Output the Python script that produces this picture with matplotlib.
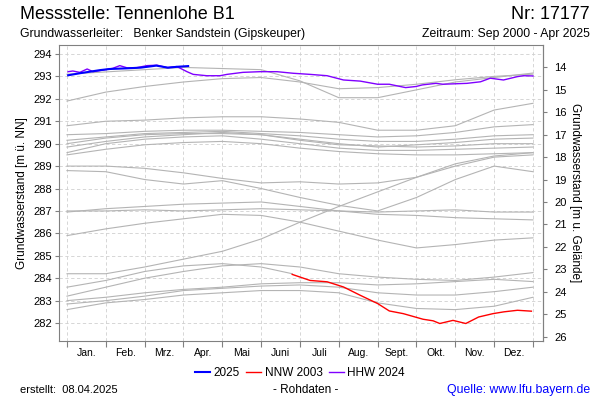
import numpy as np
import matplotlib.pyplot as plt

plt.rcParams['font.family'] = ['Liberation Sans', 'DejaVu Sans']

# month boundaries (x in months, Jan 1 = 0, Dec 31 = 12)
month_x = np.arange(13)
month_labels = ['Jan.', 'Feb.', 'Mrz.', 'Apr.', 'Mai', 'Juni', 'Juli',
                'Aug.', 'Sept.', 'Okt.', 'Nov.', 'Dez.']
gelaende = 307.4   # ground level, for right axis

# other years (grey), values at month boundaries
years_grey = [
    [293.1, 293.2, 293.3, 293.4, 293.35, 293.3, 292.8, 292.05, 292.05, 292.4, 292.75, 292.95, 293.15],
    [291.9, 292.3, 292.55, 292.75, 292.9, 292.95, 292.75, 292.45, 292.5, 292.65, 292.85, 293.0, 293.1],
    [290.8, 291.0, 291.05, 291.15, 291.2, 291.2, 291.1, 290.95, 290.6, 290.6, 290.8, 291.5, 291.8],
    [290.4, 290.45, 290.55, 290.6, 290.6, 290.55, 290.5, 290.4, 290.3, 290.35, 290.5, 290.75, 290.85],
    [290.15, 290.3, 290.45, 290.5, 290.55, 290.45, 290.35, 290.2, 290.1, 290.1, 290.2, 290.35, 290.4],
    [290.0, 290.25, 290.4, 290.45, 290.45, 290.4, 290.2, 290.0, 289.85, 289.95, 290.05, 290.2, 290.25],
    [289.85, 290.1, 290.3, 290.4, 290.5, 290.4, 290.15, 289.95, 289.9, 289.85, 289.9, 290.0, 290.0],
    [289.6, 290.0, 290.2, 290.3, 290.35, 290.2, 290.0, 289.8, 289.7, 289.7, 289.75, 289.8, 289.85],
    [289.5, 289.75, 289.95, 290.05, 290.1, 290.0, 289.8, 289.65, 289.55, 289.5, 289.5, 289.55, 289.6],
    [289.0, 289.0, 288.9, 288.7, 288.45, 288.25, 288.3, 288.2, 288.25, 288.5, 289.0, 289.4, 289.5],
    [288.8, 288.75, 288.4, 288.2, 288.35, 288.0, 287.6, 287.25, 287.0, 287.6, 288.4, 289.0, 288.75],
    [287.0, 287.0, 287.05, 287.0, 287.05, 287.1, 287.05, 287.0, 286.95, 287.0, 287.05, 286.95, 286.95],
    [286.95, 287.1, 287.2, 287.3, 287.35, 287.4, 287.2, 287.0, 286.85, 286.8, 286.7, 286.65, 286.6],
    [285.9, 286.2, 286.45, 286.65, 286.85, 286.8, 286.5, 286.1, 285.7, 285.35, 285.5, 285.7, 285.8],
    [284.2, 284.2, 284.5, 284.85, 285.2, 285.75, 286.5, 287.2, 287.85, 288.5, 289.1, 289.45, 289.6],
    [283.2, 283.6, 284.0, 284.3, 284.55, 284.65, 284.5, 284.2, 284.05, 283.95, 283.9, 284.05, 284.25],
    [282.85, 283.0, 283.2, 283.45, 283.55, 283.65, 283.7, 283.6, 283.35, 283.25, 283.25, 283.4, 283.6],
    [282.6, 282.9, 283.05, 283.25, 283.35, 283.45, 283.45, 283.35, 282.9, 282.65, 282.6, 282.75, 283.15],
    [283.0, 283.15, 283.35, 283.5, 283.6, 283.75, 283.8, 283.8, 283.7, 283.75, 283.85, 283.95, 283.85],
]

# 2003 before the red NNW part (grey)
x_2003a = [0, 1, 2, 3, 4, 5, 5.8]
y_2003a = [283.6, 283.9, 284.3, 284.55, 284.65, 284.5, 284.2]

# 2025 (blue)
x_2025 = [0.03, 0.33, 0.85, 1.1, 1.55, 1.9, 2.3, 2.6, 2.85, 3.12]
y_2025 = [293.05, 293.14, 293.28, 293.33, 293.36, 293.39, 293.48, 293.39, 293.43, 293.46]

# NNW 2003 (red)
x_nnw = [5.8, 6.26, 6.7, 7.12, 7.55, 8.0, 8.3, 8.66, 9.17, 9.43, 9.6, 9.94, 10.27, 10.6, 10.97, 11.25, 11.6, 11.96]
y_nnw = [284.17, 283.9, 283.84, 283.61, 283.24, 282.87, 282.54, 282.42, 282.17, 282.1, 281.98, 282.12, 281.98, 282.27, 282.42, 282.5, 282.57, 282.53]

# HHW 2024 (purple)
x_hhw = [0.03, 0.15, 0.33, 0.52, 0.67, 0.93, 1.18, 1.36, 1.55, 1.8, 2.06, 2.32, 2.58, 2.83, 3.09, 3.25,
         3.6, 3.94, 4.12, 4.53, 4.97, 5.41, 5.82, 6.26, 6.7, 7.12, 7.55, 8.0, 8.3, 8.72, 8.99, 9.15, 9.5,
         9.68, 10.3, 10.65, 10.9, 11.24, 11.6, 11.75, 12.0]
y_hhw = [293.21, 293.24, 293.18, 293.33, 293.21, 293.28, 293.36, 293.48, 293.38, 293.39, 293.48, 293.5, 293.39,
         293.44, 293.21, 293.09, 293.03, 293.03, 293.09, 293.18, 293.21, 293.21, 293.14, 293.09, 293.03, 292.84,
         292.79, 292.65, 292.65, 292.5, 292.55, 292.62, 292.69, 292.65, 292.69, 292.76, 292.92, 292.84, 292.99,
         293.03, 293.02]

fig = plt.figure(figsize=(6, 4), dpi=100)
ax = fig.add_axes([0.0983, 0.1475, 0.8067, 0.74])

for vals in years_grey:
    ax.plot(month_x, vals, color='#b4b4b4', lw=0.8, zorder=2)
ax.plot(x_2003a, y_2003a, color='#b4b4b4', lw=0.8, zorder=2)

ax.plot(x_nnw, y_nnw, color='#ff0000', lw=1.0, zorder=4, label='NNW 2003')
ax.plot(x_hhw, y_hhw, color='#8000ff', lw=1.0, zorder=4, label='HHW 2024')
ax.plot(x_2025, y_2025, color='#0000ff', lw=1.5, zorder=5, label='2025')

ax.set_xlim(-0.206, 12.258)
ax.set_ylim(281.2, 294.4)
ax.set_yticks(np.arange(282, 295))
ax.set_xticks(month_x)
ax.set_xticklabels([])
ax.set_xticks(month_x[:-1] + 0.5, minor=True)
ax.set_xticklabels(month_labels, minor=True, fontsize=7.5)
ax.tick_params(axis='x', which='minor', length=0, pad=5)
ax.tick_params(axis='x', which='major', length=4, color='#808080')
ax.tick_params(axis='y', labelsize=8, length=3, pad=2, color='#808080')
ax.grid(True, which='major', color='#d0d0d0', ls=(0, (4, 3)), lw=0.6)
for s in ax.spines.values():
    s.set_color('#808080')

sec = ax.secondary_yaxis('right', functions=(lambda v: gelaende - v, lambda d: gelaende - d))
sec.set_yticks(np.arange(14, 27))
sec.tick_params(labelsize=8, length=3, pad=5, color='#808080')
sec.spines['right'].set_color('#808080')
sec.set_ylabel('Grundwasserstand [m u. Gelände]', fontsize=8.5, rotation=-90, labelpad=10)
ax.set_ylabel('Grundwasserstand [m ü. NN]', fontsize=8.5, labelpad=4)

h, l = ax.get_legend_handles_labels()
order = [2, 0, 1]
fig.legend([h[i] for i in order], [l[i] for i in order], loc='center', bbox_to_anchor=(0.5, 0.068),
           ncol=3, frameon=False, fontsize=8.5, handlelength=1.3, handletextpad=0.3, columnspacing=0.5)

fig.text(0.033, 0.963, 'Messstelle: Tennenlohe B1', fontsize=13, va='center')
fig.text(0.983, 0.963, 'Nr: 17177', fontsize=13, va='center', ha='right')
fig.text(0.033, 0.915, 'Grundwasserleiter:   Benker Sandstein (Gipskeuper)', fontsize=8.8, va='center')
fig.text(0.983, 0.915, 'Zeitraum: Sep 2000 - Apr 2025', fontsize=8.8, va='center', ha='right')
fig.text(0.033, 0.025, 'erstellt:  08.04.2025', fontsize=8, va='center')
fig.text(0.51, 0.025, '- Rohdaten -', fontsize=8.5, va='center', ha='center')
fig.text(0.983, 0.025, 'Quelle: www.lfu.bayern.de', fontsize=8.8, va='center', ha='right', color='#0000ff')

fig.savefig('out.png', dpi=100)
